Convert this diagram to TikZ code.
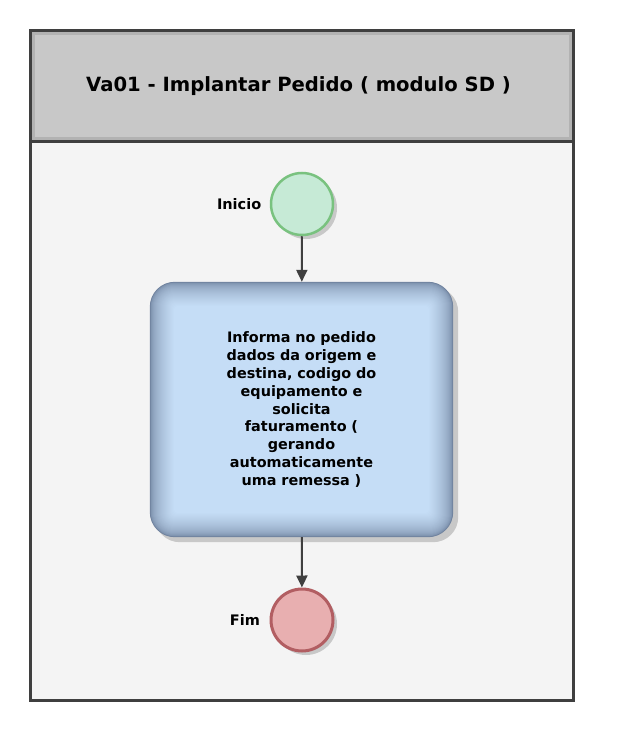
\documentclass[tikz,border=0pt]{standalone}
\usepackage{fontspec}
\setmainfont{DejaVu Sans}
\usetikzlibrary{arrows.meta,calc,positioning}
\definecolor{frameline}{HTML}{3F3F3F}
\definecolor{titlegray}{HTML}{C8C8C8}
\definecolor{bodygray}{HTML}{F4F4F4}
\definecolor{startfill}{HTML}{C6EAD6}
\definecolor{startline}{HTML}{79C27F}
\definecolor{endfill}{HTML}{E8AFB0}
\definecolor{endline}{HTML}{B25E62}
\definecolor{taskedge}{HTML}{70839F}
\definecolor{taskfill}{HTML}{C5DDF6}
\definecolor{shadowgray}{HTML}{C8C8C8}
\pgfdeclarelayer{back}
\pgfdeclarelayer{shade}
\pgfsetlayers{back,shade,main}
\tikzset{
  event/.style={circle,minimum size=62pt,inner sep=0pt,line width=2.5pt},
  evlabel/.style={font=\bfseries\fontsize{14.5}{17}\selectfont},
  taskbox/.style={rectangle,minimum width=303pt,minimum height=255pt,
    text width=160pt,align=center,font=\bfseries\fontsize{14.4}{17.8}\selectfont},
  flow/.style={-{Triangle[length=12pt,width=11pt]},line width=2pt,draw=frameline},
}

\begin{document}
\begin{tikzpicture}[x=1pt,y=-1pt]
  \useasboundingbox (0,0) rectangle (616,733);

  % nodes
  \node[font=\bfseries\fontsize{19.6}{22}\selectfont] (title) at (298.5,86) {Va01 - Implantar Pedido ( modulo SD )};
  \node[event,draw=startline,fill=startfill] (start) at (302,204) {};
  \node[evlabel,left=5pt of start] (startlbl) {Inicio};
  \node[taskbox] (task) at (301.5,409.5) {Informa no pedido\\dados da origem e\\destina, codigo do\\equipamento e\\solicita\\faturamento (\\gerando\\automaticamente\\uma remessa )};
  \node[event,draw=endline,fill=endfill,line width=3pt] (end) at (302,620) {};
  \node[evlabel,left=6pt of end] (endlbl) {Fim};

  \draw[flow] (start) -- (task);
  \draw[flow] (task) -- (end);

  % frame, title band and shadows
  \begin{pgfonlayer}{back}
    \fill[bodygray] (30,31) rectangle (573,700);
    \fill[titlegray] (30,31) rectangle (573,141);
    \draw[black!30,line width=3pt] (33,34) rectangle (570,138);
    \draw[frameline,line width=3pt] (30,31) rectangle (573,141);
    \draw[frameline,line width=3pt] (30,31) rectangle (573,700);
    \fill[shadowgray] (306,208) circle (31);
    \fill[shadowgray] (306,624) circle (31);
    \fill[shadowgray,rounded corners=25pt] ($(task.north west)+(5,5)$) rectangle ($(task.south east)+(5,5)$);
  \end{pgfonlayer}

  % shaded task body
  \begin{pgfonlayer}{shade}
    \foreach \k in {0,...,24} {
      \pgfmathsetmacro\p{100*sqrt(\k/24)}
      \pgfmathsetmacro\r{max(25-\k,4)}
      \fill[taskfill!\p!taskedge,rounded corners=\r pt] ($(task.north west)+(\k,\k)$) rectangle ($(task.south east)-(\k,\k)$);
    }
  \end{pgfonlayer}
\end{tikzpicture}
\end{document}
